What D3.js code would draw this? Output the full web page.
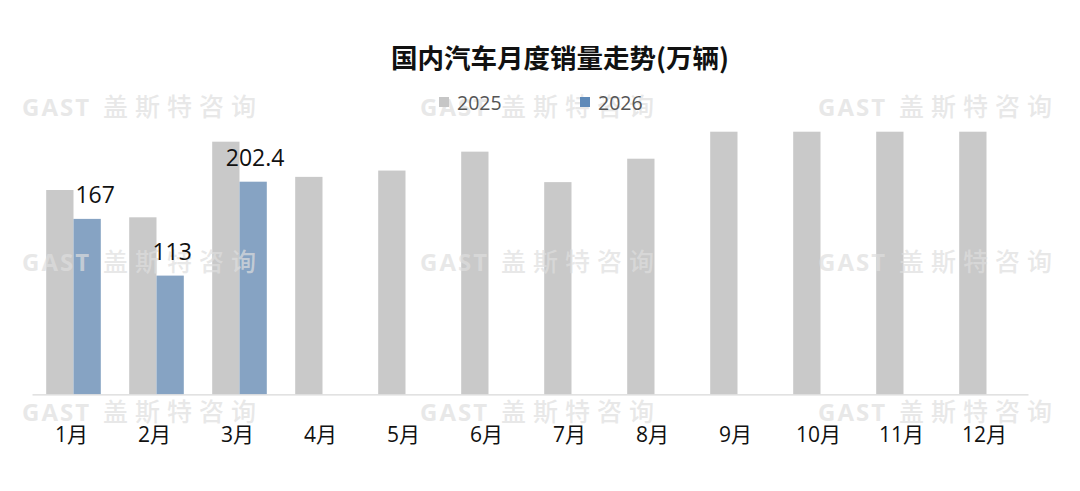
<!DOCTYPE html>
<html><head><meta charset="utf-8">
<script src="https://cdn.jsdelivr.net/npm/d3@7"></script>
<style>
html,body{margin:0;padding:0;background:#fff;}
svg{display:block;}
</style></head>
<body>
<svg id="chart" width="1080" height="491"></svg>
<script>
const months = ["1月","2月","3月","4月","5月","6月","7月","8月","9月","10月","11月","12月"];
const seriesNames = ["2025","2026"];
const sales2025 = [194.5,168.5,240.5,207,213,231,202,224.3,250,250,250,250];
const sales2026 = [167,113,202.4];
const labels2026 = ["167","113","202.4"];
const yMax = 250;
const title = "国内汽车月度销量走势(万辆)";
const wmLatin = "GAST";
const wmCJK = "盖斯特咨询";

const W = 1080, H = 491;
const margin = {left:32, right:52, top:131.7, bottom:96.7};
const svg = d3.select("#chart");
const fontLat = "'Open Sans','Noto Sans CJK SC',sans-serif";
const fontCJK = "'Noto Sans CJK SC','Open Sans',sans-serif";

const x = d3.scaleBand().domain(months).range([margin.left, W - margin.right]).paddingInner(0).paddingOuter(0);
const inner = d3.scaleBand().domain(seriesNames).range([0, x.bandwidth()]).paddingInner(0).paddingOuter(0.52);
const y = d3.scaleLinear().domain([0, yMax]).range([H - margin.bottom, margin.top]);

const colors = {"2025":"#c9c9c9","2026":"#86a3c3"};
const legendColors = {"2025":"#c6c6c6","2026":"#5f8ab9"};

// Bars
const g = svg.append("g");
g.selectAll("rect.b25").data(sales2025).join("rect").attr("class","b25")
  .attr("x",(d,i)=>x(months[i]) + inner("2025")).attr("width", inner.bandwidth())
  .attr("y", d=>y(d)).attr("height", d=>y(0)-y(d)).attr("fill", colors["2025"]);
g.selectAll("rect.b26").data(sales2026).join("rect").attr("class","b26")
  .attr("x",(d,i)=>x(months[i]) + inner("2026")).attr("width", inner.bandwidth())
  .attr("y", d=>y(d)).attr("height", d=>y(0)-y(d)).attr("fill", colors["2026"]);

// Axis
const xAxis = d3.axisBottom(x).tickSize(0).tickPadding(0);
const ax = svg.append("g").attr("transform",`translate(0,${y(0)})`).call(xAxis);
ax.select(".domain").attr("stroke","#d9d9d9").attr("stroke-width",1.2);
ax.selectAll(".tick text").attr("font-family",fontLat).attr("font-size",21).attr("fill","#111")
  .attr("dy",0).attr("y",48).attr("dx",-2);

// Watermarks
const wmRows = [107, 262, 412];
const wmCols = [22, 420, 818];
const wm = svg.append("g").attr("pointer-events","none").attr("fill","#dedede").attr("fill-opacity",0.7);
wmRows.forEach(ry => wmCols.forEach(cx => {
  wm.append("text").attr("x", cx).attr("y", ry + 9)
    .attr("font-family", fontLat).attr("font-weight","bold").attr("font-size", 24)
    .attr("letter-spacing", 2).text(wmLatin);
  wm.append("text").attr("x", cx + 81).attr("y", ry + 9)
    .attr("font-family", fontCJK).attr("font-weight", 500).attr("font-size", 25)
    .attr("letter-spacing", 7).text(wmCJK);
}));

// Data labels
svg.append("g").selectAll("text.lbl").data(sales2026).join("text").attr("class","lbl")
  .attr("x",(d,i)=>x(months[i]) + inner("2026") + inner.bandwidth()/2 + (i===0?8:2))
  .attr("y", d=>y(d) - 16)
  .attr("text-anchor","middle").attr("font-family",fontLat).attr("font-size",23).attr("fill","#111")
  .text((d,i)=>labels2026[i]);

// Title
svg.append("text").attr("x", 560).attr("y", 68)
  .attr("text-anchor","middle").attr("font-family",fontCJK).attr("font-weight","bold")
  .attr("font-size",26.5).attr("fill","#111").text(title);

// Legend
const legendPos = [{x:457, name:"2025"},{x:598, name:"2026"}];
legendPos.forEach(l => {
  svg.append("rect").attr("x", l.x - 18).attr("y", 97).attr("width", 10).attr("height", 10).attr("fill", legendColors[l.name]);
  svg.append("text").attr("x", l.x).attr("y", 110).attr("font-family", fontLat).attr("font-size", 19.5).attr("fill","#555").text(l.name);
});
</script>
</body></html>
